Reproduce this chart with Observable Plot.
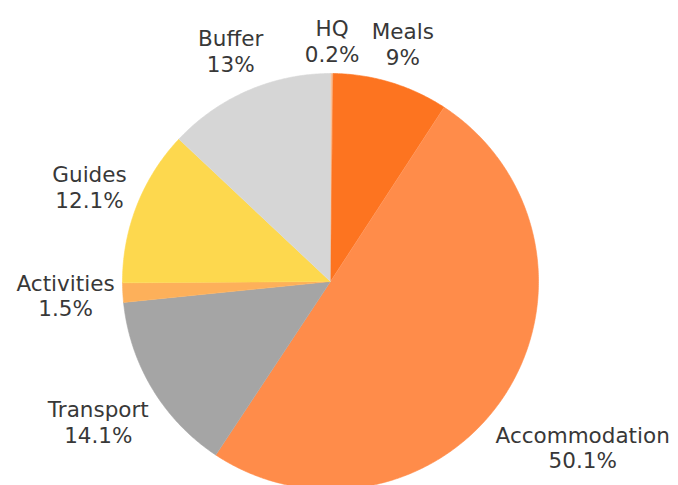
<!DOCTYPE html>
<html><head><meta charset="utf-8">
<script src="https://cdn.jsdelivr.net/npm/d3@7"></script>
<script src="https://cdn.jsdelivr.net/npm/@observablehq/plot@0.6"></script>
<style>body{margin:0;background:#fff;overflow:hidden;}</style>
</head><body><div id="chart"></div>
<script>
const categories = ["HQ", "Meals", "Accommodation", "Transport", "Activities", "Guides", "Buffer"];
const shares = [0.2, 9, 50.1, 14.1, 1.5, 12.1, 13];
const colors = ["#f6c09a", "#fd7420", "#ff8c4a", "#a5a5a5", "#fdb05a", "#fdd84e", "#d6d6d6"];

const W = 678, H = 485, cx = 330, cy = 281, R = 208;
const fontSize = 21.5;
const total = d3.sum(shares);
const ctx = document.createElement("canvas").getContext("2d");
ctx.font = `${fontSize}px "DejaVu Sans"`;

let acc = 0;
const wedgePts = [];
const labels = [];
categories.forEach((name, i) => {
  const a0 = acc / total * 2 * Math.PI;
  acc += shares[i];
  const a1 = acc / total * 2 * Math.PI;
  wedgePts.push({name, x: 0, y: 0});
  const n = Math.max(2, Math.ceil((a1 - a0) / (Math.PI / 360)));
  for (let k = 0; k <= n; k++) {
    const a = a0 + (a1 - a0) * k / n;
    wedgePts.push({name, x: Math.sin(a), y: Math.cos(a)});
  }
  const am = (a0 + a1) / 2;
  const pct = shares[i] + "%";
  const w = Math.max(ctx.measureText(name).width, ctx.measureText(pct).width);
  const h = 2 * fontSize * 1.18;
  const d = (R + 7 + w / 2 * Math.abs(Math.sin(am)) + h / 2 * Math.abs(Math.cos(am))) / R;
  labels.push({name, text: name + "\n" + pct, x: d * Math.sin(am), y: d * Math.cos(am)});
});

const plot = Plot.plot({
  width: W, height: H, margin: 0,
  x: {domain: [-1, 1], range: [cx - R, cx + R], axis: null},
  y: {domain: [-1, 1], range: [cy + R, cy - R], axis: null},
  color: {domain: categories, range: colors},
  style: {fontFamily: "DejaVu Sans", background: "#fff"},
  marks: [
    Plot.line(wedgePts, {x: "x", y: "y", z: "name", fill: "name", stroke: "name", strokeWidth: 0.6}),
    Plot.text(labels, {x: "x", y: "y", text: "text", fontSize, fill: "#383838", lineHeight: 1.18, textAnchor: "middle"})
  ]
});
document.getElementById("chart").appendChild(plot);
</script>
</body></html>
